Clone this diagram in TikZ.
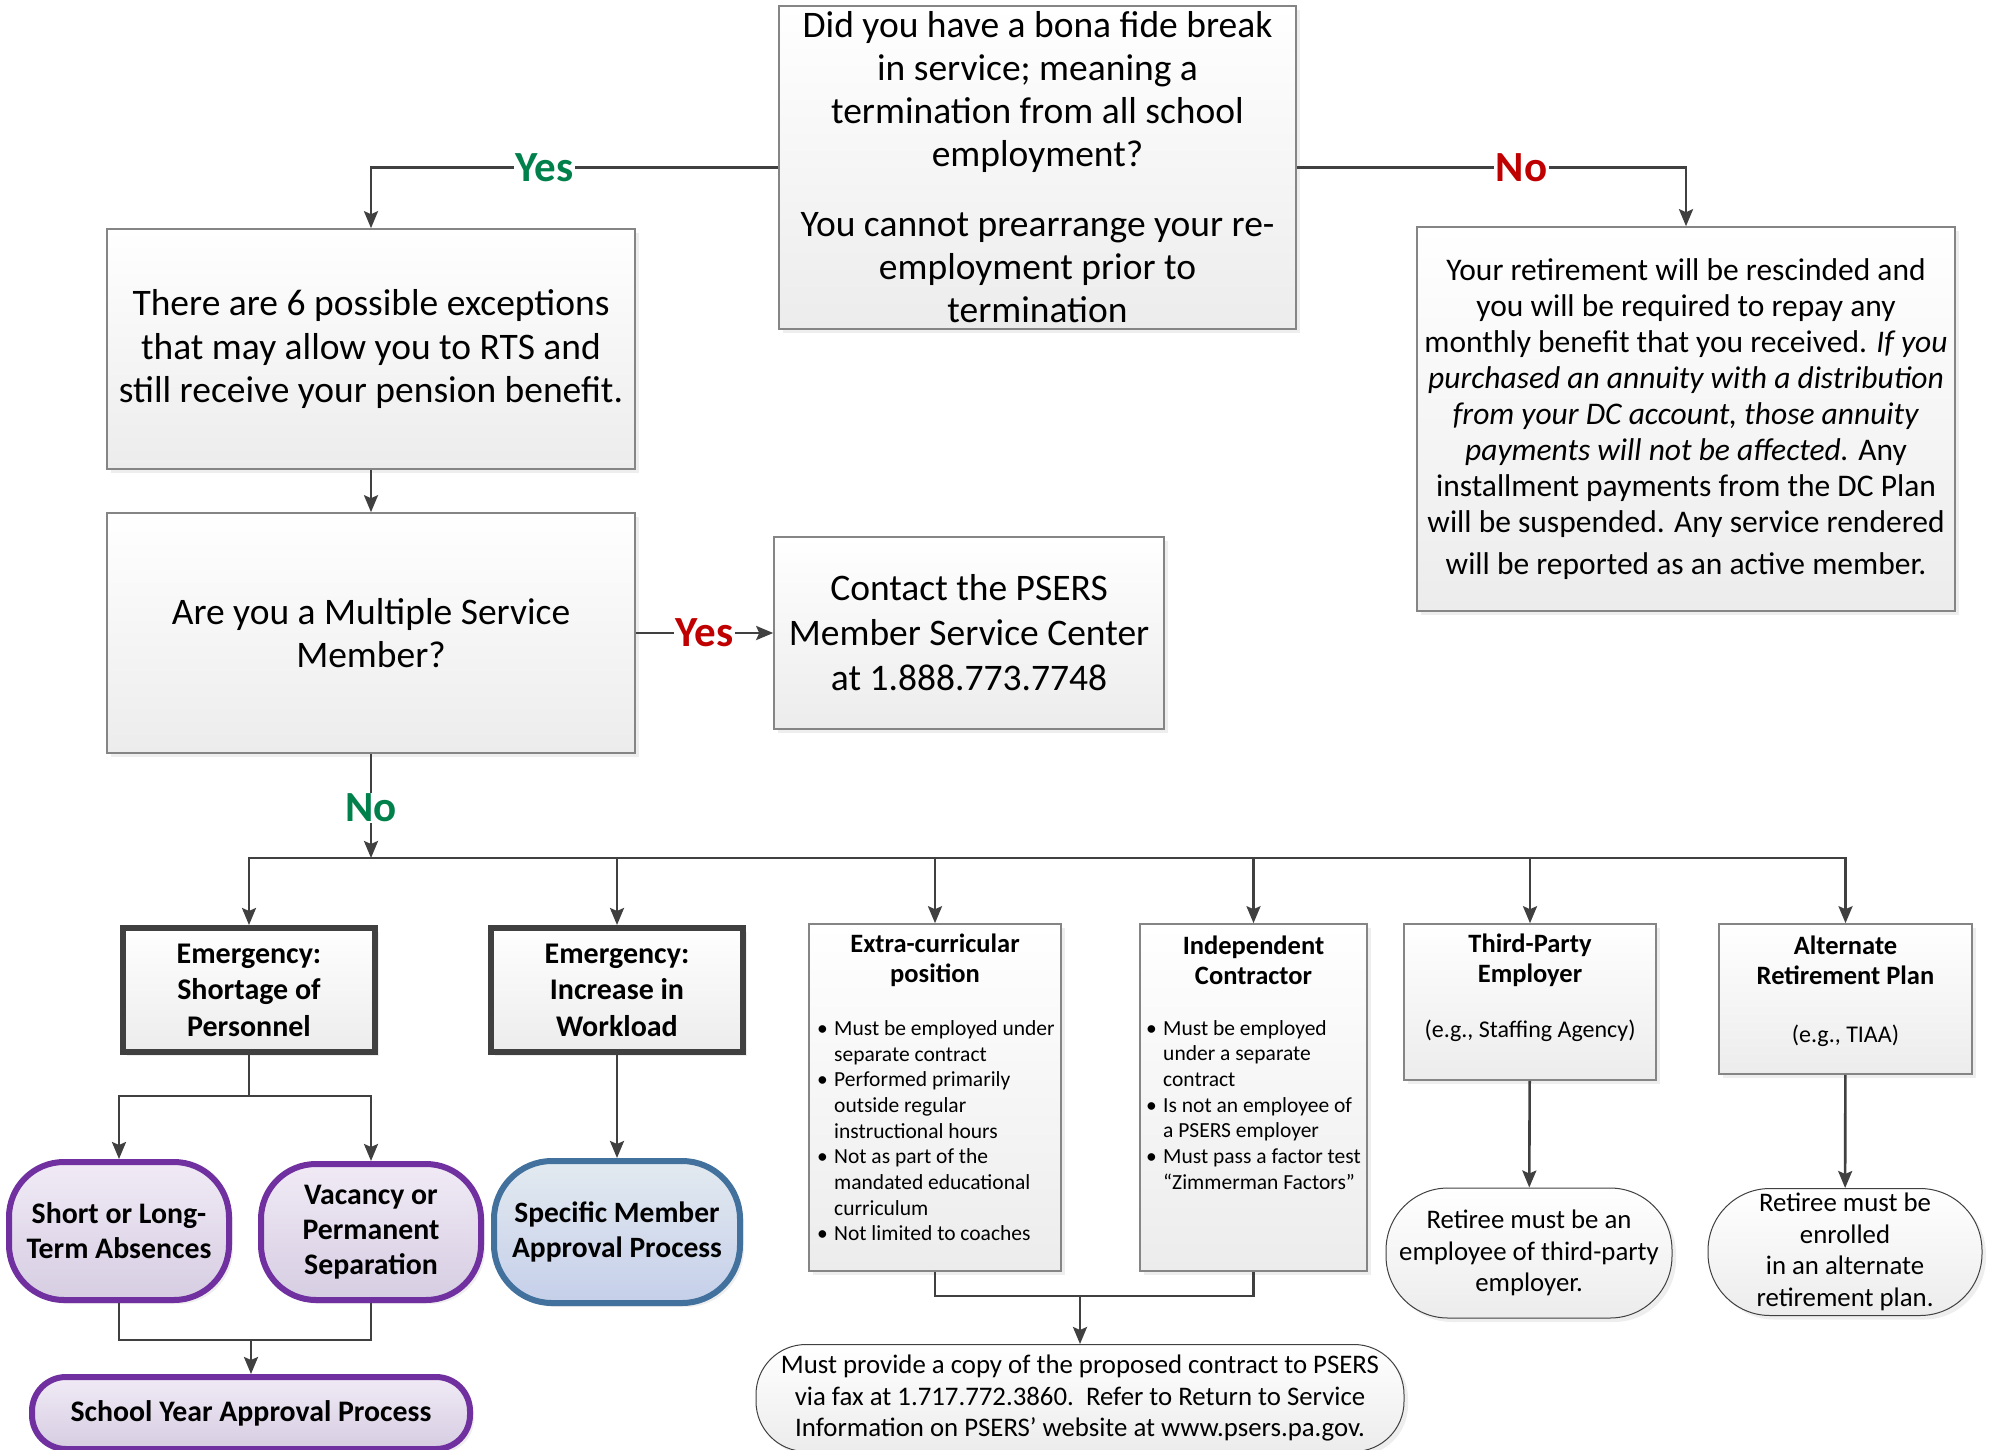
\documentclass[tikz,border=0pt]{standalone}
\usepackage{fontspec}
\setmainfont{Carlito}
\usetikzlibrary{arrows.meta, positioning, shadows}
\definecolor{psline}{HTML}{404040}
\definecolor{psedge}{HTML}{858585}
\definecolor{psfill}{HTML}{ECECEC}
\definecolor{psgreen}{HTML}{00804A}
\definecolor{psred}{HTML}{C00000}
\definecolor{pspurple}{HTML}{7030A0}
\definecolor{pslilac}{HTML}{D6CDE2}
\definecolor{psblue}{HTML}{41719C}
\definecolor{pssky}{HTML}{C5CFE9}

\begin{document}
\begin{tikzpicture}[x=1pt, y=-1pt,
  every node/.style={inner sep=0pt, align=center},
  shade/.style={drop shadow={shadow xshift=4pt, shadow yshift=-4pt, fill=black!13}},
  gbox/.style={rectangle, draw=psedge, line width=1.6pt, top color=white, bottom color=psfill, shade},
  ebox/.style={rectangle, draw=psline, line width=6pt, top color=white, bottom color=psfill, shade, minimum width=252pt, minimum height=124pt, font=\fontsize{30}{36.5}\selectfont\bfseries},
  pbox/.style={rectangle, rounded corners=#1, draw=pspurple, line width=6pt, top color=pspurple!10, bottom color=pslilac, shade, font=\fontsize{29.8}{35}\selectfont\bfseries},
  bbox/.style={rectangle, rounded corners=#1, draw=psblue, line width=6pt, top color=psblue!15, bottom color=pssky, shade, font=\fontsize{29.5}{35}\selectfont\bfseries},
  obox/.style={rectangle, rounded corners=#1, draw=black!75, line width=1pt, top color=white, bottom color=psfill, shade, font=\fontsize{26.8}{31.5}\selectfont},
  bigtxt/.style={font=\fontsize{37.5}{43}\selectfont},
  ttl/.style={font=\fontsize{26.5}{30}\selectfont\bfseries},
  listtxt/.style={font=\fontsize{21.5}{25.7}\selectfont, align=left},
  eg/.style={font=\fontsize{24}{26}\selectfont},
  lbl/.style={fill=white, inner xsep=2pt, inner ysep=1pt, text=#1, font=\fontsize{43}{44}\selectfont\bfseries},
  conn/.style={draw=psline, line width=2.6pt, -{Stealth[length=17pt, width=14pt, inset=3pt]}},
  link/.style={draw=psline, line width=2.6pt},
]
\useasboundingbox (0,0) rectangle (1991,1450);

% Question and answers
\node[gbox, bigtxt, minimum width=517pt, minimum height=323pt] (qtop) at (1037.5,167.5)
  {Did you have a bona fide break\\in service; meaning a\\termination from all school\\employment?\\[27pt]You cannot prearrange your re-\\employment prior to\\termination};
\node[gbox, bigtxt, minimum width=528pt, minimum height=240pt] (excp) at (371,349)
  {There are 6 possible exceptions\\that may allow you to RTS and\\still receive your pension benefit.};
\node[gbox, bigtxt, minimum width=528pt, minimum height=240pt] (msm) at (371,633)
  {Are you a Multiple Service\\Member?};
\node[gbox, font=\fontsize{37.5}{45}\selectfont, minimum width=390pt, minimum height=192pt] (contact) at (969,633)
  {Contact the PSERS\\Member Service Center\\at 1.888.773.7748};
\node[gbox, font=\fontsize{31.5}{36}\selectfont, minimum width=538pt, minimum height=384pt] (rescind) at (1686,419)
  {Your retirement will be rescinded and\\you will be required to repay any\\monthly benefit that you received. \textit{If you}\\\textit{purchased an annuity with a distribution}\\\textit{from your DC account, those annuity}\\\textit{payments will not be affected.} Any\\installment payments from the DC Plan\\will be suspended. Any service rendered\\[6pt]will be reported as an active member.};

% Six exceptions
\node[ebox] (emg1) at (249,990) {Emergency:\\Shortage of\\Personnel};
\node[ebox] (emg2) at (617,990) {Emergency:\\Increase in\\Workload};
\node[gbox, minimum width=252pt, minimum height=347pt] (extra) at (935,1097.5) {};
\node[gbox, minimum width=227pt, minimum height=347pt] (indep) at (1253.5,1097.5) {};
\node[gbox, minimum width=252pt, minimum height=156pt] (third) at (1530,1002) {};
\node[gbox, minimum width=253pt, minimum height=150pt] (alt) at (1845.5,999) {};

\node[ttl] (extrattl) at (935,960) {Extra-curricular\\position};
\node[listtxt, anchor=west] (extralist) at (817,1133) {\begin{tabular}{@{}l@{}l@{}}
  \makebox[17pt][l]{\textbullet} & Must be employed under\\ & separate contract\\
  \textbullet & Performed primarily\\ & outside regular\\ & instructional hours\\
  \textbullet & Not as part of the\\ & mandated educational\\ & curriculum\\
  \textbullet & Not limited to coaches\end{tabular}};
\node[ttl] (indepttl) at (1253.5,960) {Independent\\Contractor};
\node[listtxt, anchor=west] (indeplist) at (1146,1107) {\begin{tabular}{@{}l@{}l@{}}
  \makebox[17pt][l]{\textbullet} & Must be employed\\ & under a separate\\ & contract\\
  \textbullet & Is not an employee of\\ & a PSERS employer\\
  \textbullet & Must pass a factor test\\ & ``Zimmerman Factors''\end{tabular}};
\node[ttl] (thirdttl) at (1530,960) {Third-Party\\Employer};
\node[eg] (thirdeg) at (1530,1031) {(e.g., Staffing Agency)};
\node[ttl] (altttl) at (1845.5,960) {Alternate\\Retirement Plan};
\node[eg] (alteg) at (1845.5,1036) {(e.g., TIAA)};

% Outcomes
\node[pbox=55pt, minimum width=220pt, minimum height=138pt] (shortlong) at (119,1231) {Short or Long-\\Term Absences};
\node[pbox=55pt, minimum width=220pt, minimum height=136pt] (vacancy) at (371,1232) {Vacancy or\\Permanent\\Separation};
\node[bbox=58pt, minimum width=246pt, minimum height=142pt] (specific) at (617,1232) {Specific Member\\Approval Process};
\node[pbox=34pt, minimum width=438pt, minimum height=72pt] (schoolyr) at (251,1413) {School Year Approval Process};
\node[obox=50pt, minimum width=648pt, minimum height=107pt] (must) at (1080,1398)
  {Must provide a copy of the proposed contract to PSERS\\via fax at 1.717.772.3860.\ \ Refer to Return to Service\\Information on PSERS’ website at www.psers.pa.gov.};
\node[obox=62pt, minimum width=286pt, minimum height=130pt] (retiree1) at (1529,1253)
  {Retiree must be an\\employee of third-party\\employer.};
\node[obox=62pt, minimum width=274pt, minimum height=127pt] (retiree2) at (1845,1252)
  {Retiree must be\\enrolled\\in an alternate\\retirement plan.};

% Connections
\draw[conn] (qtop.west) -- node[lbl=psgreen, pos=0.574] {Yes} (qtop.west -| excp.north) -- (excp.north);
\draw[conn] (qtop.east) -- node[lbl=psred, pos=0.577] {No} (qtop.east -| rescind.north) -- (rescind.north);
\draw[conn] (excp) -- (msm);
\draw[conn] (msm) -- node[lbl=psred] {Yes} (contact);
\coordinate (bus) at (371,858);
\draw[conn] (msm.south) -- node[lbl=psgreen, pos=0.52] {No} (bus);
\foreach \b in {emg1,emg2,extra,indep,third,alt} \draw[conn] (bus) -| (\b.north);

\coordinate (split) at (249,1096);
\draw[link] (emg1.south) -- (split);
\foreach \s in {shortlong,vacancy} \draw[conn] (split) -| (\s.north);
\coordinate (join) at (251,1340);
\draw[link] (shortlong.south) |- (join) -| (vacancy.south);
\draw[conn] (join) -- (schoolyr.north);
\draw[conn] (emg2) -- (specific);

\coordinate (merge) at (1080,1296);
\draw[link] (extra.south) |- (merge) -| (indep.south);
\draw[conn] (merge) -- (must.north);
\draw[conn] (third) -- (retiree1);
\draw[conn] (alt) -- (retiree2);

\end{tikzpicture}
\end{document}
